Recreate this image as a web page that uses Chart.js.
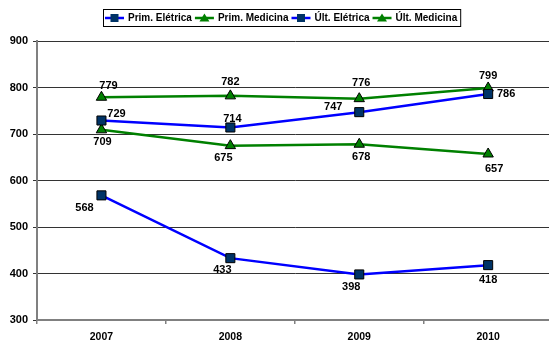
<!DOCTYPE html>
<html><head><meta charset="utf-8">
<script src="https://cdn.jsdelivr.net/npm/chart.js@4"></script>
<style>
html,body{margin:0;padding:0;background:#fff;overflow:hidden}
#chart{display:block}
</style></head><body>
<canvas id="chart" width="560" height="341"></canvas>
<script>
// Data
const years = ['2007', '2008', '2009', '2010'];
const primEletrica = [729, 714, 747, 786];
const primMedicina = [779, 782, 776, 799];
const ultEletrica = [568, 433, 398, 418];
const ultMedicina = [709, 675, 678, 657];
const yMin = 300, yMax = 900, yStep = 100;

// Label nudges (px) per point, relative to the marker
const labelOffsets = [
  [[15, -7], [2, -9], [-26, -5], [18, 0]],
  [[7, -11], [0, -14], [2, -16], [0, -12]],
  [[-17, 13], [-8, 12], [-8, 13], [0, 15]],
  [[1, 12], [-7, 12], [2, 13], [6, 15]]
];

const BLUE = '#0000ff', NAVY = '#003366', GREEN = '#008000';
const FONT = '"Liberation Sans", Arial, sans-serif';

function lineSet(label, data, color, fill, style, radius) {
  return {
    label, data,
    borderColor: color, borderWidth: 2.5,
    pointStyle: style, pointRadius: radius, pointHoverRadius: radius,
    pointBackgroundColor: fill, pointBorderColor: '#000', pointBorderWidth: 1,
    tension: 0, fill: false
  };
}

const datasets = [
  lineSet('Prim. Elétrica', primEletrica, BLUE, NAVY, 'rect', 6.4),
  lineSet('Prim. Medicina', primMedicina, GREEN, GREEN, 'triangle', 6),
  lineSet('Últ. Elétrica', ultEletrica, BLUE, NAVY, 'rect', 6.4),
  lineSet('Últ. Medicina', ultMedicina, GREEN, GREEN, 'triangle', 6)
];

// Value labels
const valueLabels = {
  id: 'valueLabels',
  afterDatasetsDraw(chart) {
    const ctx = chart.ctx;
    ctx.save();
    ctx.font = 'bold 11px ' + FONT;
    ctx.fillStyle = '#000';
    ctx.textAlign = 'center';
    ctx.textBaseline = 'middle';
    chart.data.datasets.forEach((ds, i) => {
      chart.getDatasetMeta(i).data.forEach((pt, j) => {
        const [dx, dy] = labelOffsets[i][j];
        ctx.fillText(String(ds.data[j]), pt.x + dx, pt.y + dy);
      });
    });
    ctx.restore();
  }
};

// Boxed legend like the original
const boxLegend = {
  id: 'boxLegend',
  afterDraw(chart) {
    const ctx = chart.ctx;
    ctx.save();
    ctx.font = 'bold 10px ' + FONT;
    const left = 103, top = 9, h = 17, sample = 19;
    let x = left + 2;
    const cy = top + h / 2 + 0.5;
    const parts = [];
    chart.data.datasets.forEach((ds) => {
      parts.push({ ds, x });
      x += sample + 4 + ctx.measureText(ds.label).width + 3;
    });
    const right = x;
    ctx.strokeStyle = '#000';
    ctx.lineWidth = 1;
    ctx.strokeRect(left + 0.5, top + 0.5, right - left, h);
    parts.forEach(({ ds, x }) => {
      ctx.strokeStyle = ds.borderColor;
      ctx.lineWidth = 2.5;
      ctx.beginPath();
      ctx.moveTo(x, cy);
      ctx.lineTo(x + sample, cy);
      ctx.stroke();
      const mx = x + sample / 2;
      if (ds.pointStyle === 'rect') {
        ctx.fillStyle = ds.pointBackgroundColor;
        ctx.fillRect(mx - 4, cy - 4, 8, 8);
      } else {
        ctx.fillStyle = ds.borderColor;
        ctx.beginPath();
        ctx.moveTo(mx, cy - 4.5);
        ctx.lineTo(mx + 5, cy + 3.5);
        ctx.lineTo(mx - 5, cy + 3.5);
        ctx.closePath();
        ctx.fill();
      }
      ctx.fillStyle = '#000';
      ctx.textAlign = 'left';
      ctx.textBaseline = 'middle';
      ctx.fillText(ds.label, x + sample + 4, cy);
    });
    ctx.restore();
  }
};

new Chart(document.getElementById('chart'), {
  type: 'line',
  data: { labels: years, datasets },
  plugins: [valueLabels, boxLegend],
  options: {
    responsive: false,
    animation: false,
    layout: { padding: { top: 41, left: 0, right: 0, bottom: 0 } },
    plugins: { legend: { display: false }, tooltip: { enabled: false } },
    scales: {
      x: {
        offset: true,
        grid: { offset: true, drawOnChartArea: false, drawTicks: true, tickLength: 4, color: '#808080', lineWidth: 1.5 },
        border: { color: '#808080', width: 2 },
        ticks: { color: '#000', font: { family: FONT, size: 10.5, weight: 'bold' }, padding: 7 },
        afterFit(scale) { scale.height = 21; }
      },
      y: {
        min: yMin, max: yMax,
        grid: { color: '#333', lineWidth: 1, tickLength: 4, drawTicks: true },
        border: { color: '#808080', width: 2 },
        ticks: { stepSize: yStep, color: '#000', font: { family: FONT, size: 11, weight: 'bold' }, padding: 5 },
        afterFit(scale) { scale.width = 37; }
      }
    }
  }
});
</script>
</body></html>
